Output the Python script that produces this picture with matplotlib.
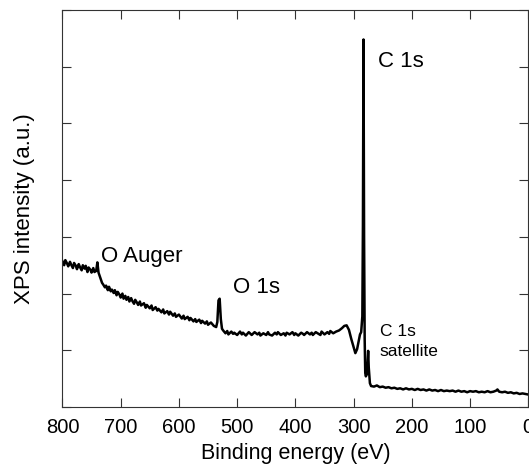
import matplotlib
matplotlib.use("Agg")
import matplotlib.pyplot as plt

plt.rcParams['font.family'] = ['Liberation Sans', 'DejaVu Sans']

# spectrum (binding energy in eV, intensity in a.u.)
energy = [800, 797, 795, 792, 790, 787, 785, 782, 780, 777, 775, 772, 770, 767,
          765, 762, 760, 757, 755, 752, 750, 747, 745,
          742, 740, 738, 735, 732,
          730, 727, 725, 722, 720, 717, 715, 712, 710, 707, 705, 702, 700, 697,
          695, 692, 690, 687, 685, 682, 680, 677, 675, 672, 670, 667,
          665, 660, 657, 655, 650, 647, 645, 640, 637, 635, 630, 627, 625, 620,
          617, 615, 610, 607, 605,
          600, 595, 592, 590, 585, 582, 580, 575, 572, 570, 565, 562, 560, 555,
          552, 550, 545, 540, 536,
          534, 532, 530, 528, 526,
          524, 520, 517, 515, 510, 507, 505, 500, 495, 492, 490, 485, 480, 477,
          475, 470, 465, 462, 460, 455, 450, 447, 445, 440, 435, 432, 430, 425,
          420, 417, 415, 410, 405, 402, 400, 395, 390, 387, 385, 380, 375, 372,
          370, 365, 360, 357, 355, 350, 345, 342, 340, 335,
          330, 325, 320, 316, 312, 308, 304, 300, 297, 294, 291, 289, 287,
          285, 284, 283, 282, 281, 280, 279, 277, 275, 274, 272, 270,
          265, 260, 255, 250, 245, 240, 235, 230, 225, 220, 215, 210, 205, 200,
          195, 190, 185, 180, 175, 170, 165, 160, 155, 150, 145, 140, 135, 130,
          125, 120, 115, 110, 105, 100, 95, 90, 85, 80, 75, 70, 65, 60, 55, 53,
          50, 45, 40, 35, 30, 25, 20, 15, 10, 5, 0]
intensity = [2.57, 2.50, 2.59, 2.53, 2.48, 2.56, 2.51, 2.45, 2.54, 2.49, 2.43, 2.52, 2.47, 2.41,
             2.50, 2.44, 2.49, 2.38, 2.46, 2.42, 2.37, 2.45, 2.38,
             2.40, 2.55, 2.37, 2.28, 2.19,
             2.16, 2.11, 2.14, 2.06, 2.12, 2.04, 2.07, 2.01, 2.06, 1.97, 2.03, 1.98, 1.93, 2.00,
             1.91, 1.96, 1.89, 1.94, 1.86, 1.92, 1.87, 1.82, 1.89, 1.84, 1.80, 1.86,
             1.79, 1.83, 1.75, 1.80, 1.74, 1.79, 1.71, 1.76, 1.70, 1.73, 1.67, 1.72, 1.65, 1.69,
             1.63, 1.68, 1.61, 1.65, 1.59,
             1.63, 1.56, 1.61, 1.55, 1.59, 1.53, 1.57, 1.51, 1.55, 1.50, 1.54, 1.48, 1.52, 1.47,
             1.51, 1.45, 1.49, 1.43, 1.41,
             1.50, 1.88, 1.91, 1.55, 1.38,
             1.35, 1.30, 1.34, 1.28, 1.33, 1.29, 1.31, 1.27, 1.33, 1.28, 1.31, 1.26, 1.32, 1.29,
             1.27, 1.32, 1.28, 1.31, 1.26, 1.30, 1.27, 1.32, 1.28, 1.26, 1.31, 1.28, 1.32, 1.27,
             1.30, 1.26, 1.31, 1.28, 1.32, 1.27, 1.30, 1.26, 1.31, 1.29, 1.27, 1.32, 1.28, 1.31,
             1.27, 1.32, 1.29, 1.27, 1.33, 1.28, 1.32, 1.29, 1.34, 1.30,
             1.33, 1.35, 1.39, 1.43, 1.44, 1.36, 1.20, 1.06, 0.95, 1.02, 1.18, 1.28, 1.32,
             1.60, 3.2, 6.48, 3.0, 1.2, 0.60, 0.54, 0.58, 0.99, 0.70, 0.42, 0.37,
             0.36, 0.38, 0.35, 0.36, 0.34, 0.35, 0.33, 0.34, 0.32, 0.33, 0.31, 0.33, 0.31, 0.32,
             0.30, 0.32, 0.30, 0.31, 0.29, 0.31, 0.29, 0.30, 0.28, 0.30, 0.28, 0.29, 0.28, 0.29,
             0.27, 0.29, 0.27, 0.28, 0.26, 0.28, 0.27, 0.28, 0.26, 0.27, 0.26, 0.28, 0.26, 0.27, 0.29, 0.31,
             0.27, 0.26, 0.27, 0.25, 0.26, 0.24, 0.25, 0.23, 0.24, 0.23, 0.22]

xticks = [800, 700, 600, 500, 400, 300, 200, 100, 0]
xticklabels = ['800', '700', '600', '500', '400', '300', '200', '100', '0']

labels = ['O Auger', 'O 1s', 'C 1s']
label_x = [734, 507, 258]
label_y = [2.66, 2.11, 6.09]

fig = plt.figure(figsize=(5.29, 4.73), dpi=100)
ax = fig.add_axes([0.118, 0.1395, 0.8807, 0.8394])

ax.plot(energy, intensity, color='black', lw=1.8)

ax.set_xlim(800, 0)
ax.set_ylim(0, 7)
ax.set_xticks(xticks)
ax.set_xticklabels(xticklabels)
ax.set_yticks(range(8))
ax.set_yticklabels([])

ax.tick_params(direction='in', length=6.5, width=0.8, color='#333333',
               top=True, right=True, labelsize=14.5, pad=8)
for s in ax.spines.values():
    s.set_linewidth(0.8)
    s.set_color('#333333')

ax.set_xlabel('Binding energy (eV)', fontsize=15.5, labelpad=4)
ax.set_ylabel('XPS intensity (a.u.)', fontsize=16, labelpad=12)

for t, x, y in zip(labels, label_x, label_y):
    ax.text(x, y, t, fontsize=16, ha='left', va='center')
ax.text(255, 1.34, 'C 1s', fontsize=12.5, ha='left', va='center')
ax.text(255, 0.97, 'satellite', fontsize=12.5, ha='left', va='center')

fig.savefig('out.png', dpi=100)
